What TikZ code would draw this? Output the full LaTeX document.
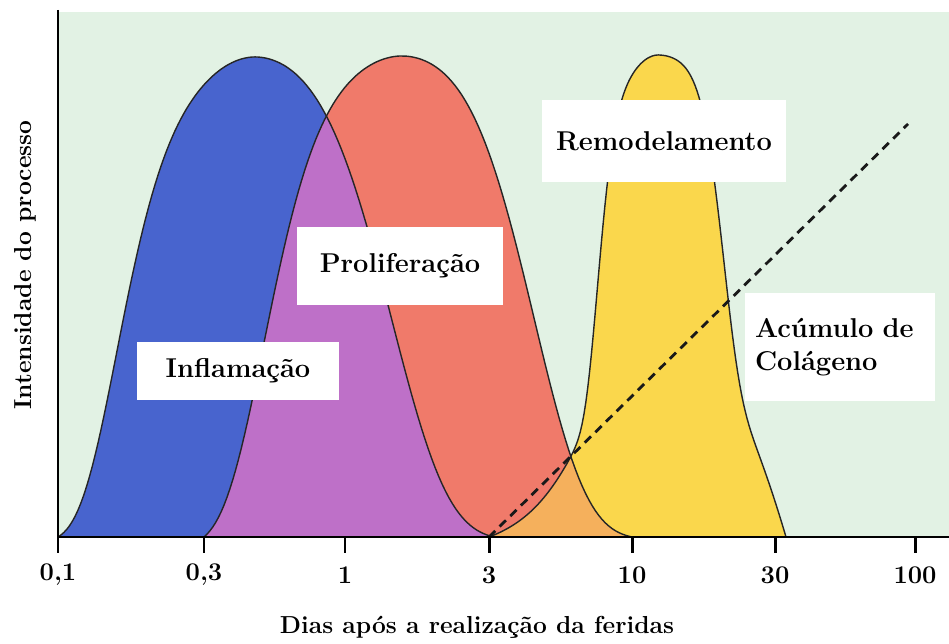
\documentclass[tikz,border=0pt]{standalone}
\usepackage{tikz}
\definecolor{bggreen}{RGB}{226,242,228}
\definecolor{cblue}{RGB}{72,100,206}
\definecolor{cpurple}{RGB}{190,112,200}
\definecolor{cred}{RGB}{240,122,106}
\definecolor{cyellow}{RGB}{250,215,76}
\definecolor{corange}{RGB}{245,176,92}

\begin{document}
\begin{tikzpicture}[x=0.02cm, y=-0.02cm,
  declare function={
    gb(\d,\a,\b,\n)=exp(-min(30,pow((abs(\d)+0.5)/\a,2)+pow((abs(\d)+0.5)/\b,\n)));
    bell(\d,\a,\b,\n,\w)=max(0,(gb(\d,\a,\b,\n)-gb(\w,\a,\b,\n))/(1-gb(\w,\a,\b,\n)));
    yel(\d,\b,\n,\s,\w)=max(0,(0.55*exp(-min(30,pow((abs(\d)+0.5)/\b,\n)))+0.45*exp(-pow((abs(\d)+0.5)/\s,2)))*(1-pow((abs(\d)+0.01)/\w,12)));
    yer(\d,\b,\n,\w)=max(0,0.55*exp(-min(30,pow((abs(\d)+0.5)/\b,\n)))+0.45*(1-pow((abs(\d)+0.01)/\w,2)));
  },
  curve/.style={draw=black!85, line width=0.8pt},
  axis/.style={line width=1.7pt},
  labelbox/.style={fill=white, inner sep=0pt, font=\bfseries\fontsize{15.5}{19}\selectfont},
  ticklab/.style={font=\bfseries\fontsize{14.5}{17}\selectfont},
  axislab/.style={font=\bfseries\fontsize{14}{17}\selectfont},
  colag/.style={line width=1.6pt, black!90, dash pattern=on 5pt off 3.5pt}]

  \useasboundingbox (0,0) rectangle (949,644);
  \fill[bggreen] (58,12) rectangle (949,537);

  \def\inflam{plot[domain=58:255, samples=70] (\x,{537-480*bell(\x-255,216,156,5.5,197)})
    -- plot[domain=255:494, samples=70] (\x,{537-480*bell(\x-255,229,170,4,239)})}
  \def\prolif{plot[domain=204:402, samples=70] (\x,{537-481*bell(\x-402,236,157,5,198)})
    -- plot[domain=402:632, samples=70] (\x,{537-481*bell(\x-402,238,160,4,230)})}
  \def\remod{plot[domain=489:658, samples=90] (\x,{537-482*yel(\x-658,63,6,88,169)})
    -- plot[domain=658:786, samples=70] (\x,{537-482*yer(\x-658,69,5,128)})}

  \fill[cblue] \inflam -- cycle;
  \fill[cred] \prolif -- cycle;
  \begin{scope}
    \clip \inflam -- cycle;
    \fill[cpurple] \prolif -- cycle;
  \end{scope}
  \fill[cyellow] \remod -- cycle;
  \begin{scope}
    \clip \prolif -- cycle;
    \fill[corange] \remod -- cycle;
  \end{scope}
  \draw[curve] \inflam;
  \draw[curve] \prolif;
  \draw[curve] \remod;

  \coordinate (c0) at (489,537);
  \coordinate (c1) at (908,124);
  \draw[colag] (c0) -- (c1);

  \coordinate (ytop) at (58,10);
  \coordinate (o) at (58,537);
  \coordinate (xend) at (949,537);
  \draw[axis] (ytop) -- (o) -- (xend);
  \foreach \px/\lab [count=\i] in {58/{0,1},204/{0,3},345/1,489/3,632/10,775/30,915/100} {
    \draw[axis] (\px,537) -- (\px,553);
    \node[ticklab] (t\i) at (\px,575) {\lab};
  }

  \node[labelbox, minimum width=4.06cm, minimum height=1.16cm] (infl) at (238,371) {Inflamação};
  \node[labelbox, minimum width=4.12cm, minimum height=1.56cm] (prol) at (400,266) {Proliferação};
  \node[labelbox, minimum width=4.9cm, minimum height=1.66cm] (remo) at (664,141) {Remodelamento};
  \node[labelbox, minimum width=3.8cm, minimum height=2.18cm, text width=3.4cm, align=left] (acum) at (840,347) {Acúmulo de\\Colágeno};

  \node[axislab] (xlab) at (477,627) {Dias após a realização da feridas};
  \node[axislab, rotate=90] (ylab) at (25,265) {Intensidade do processo};
\end{tikzpicture}
\end{document}
